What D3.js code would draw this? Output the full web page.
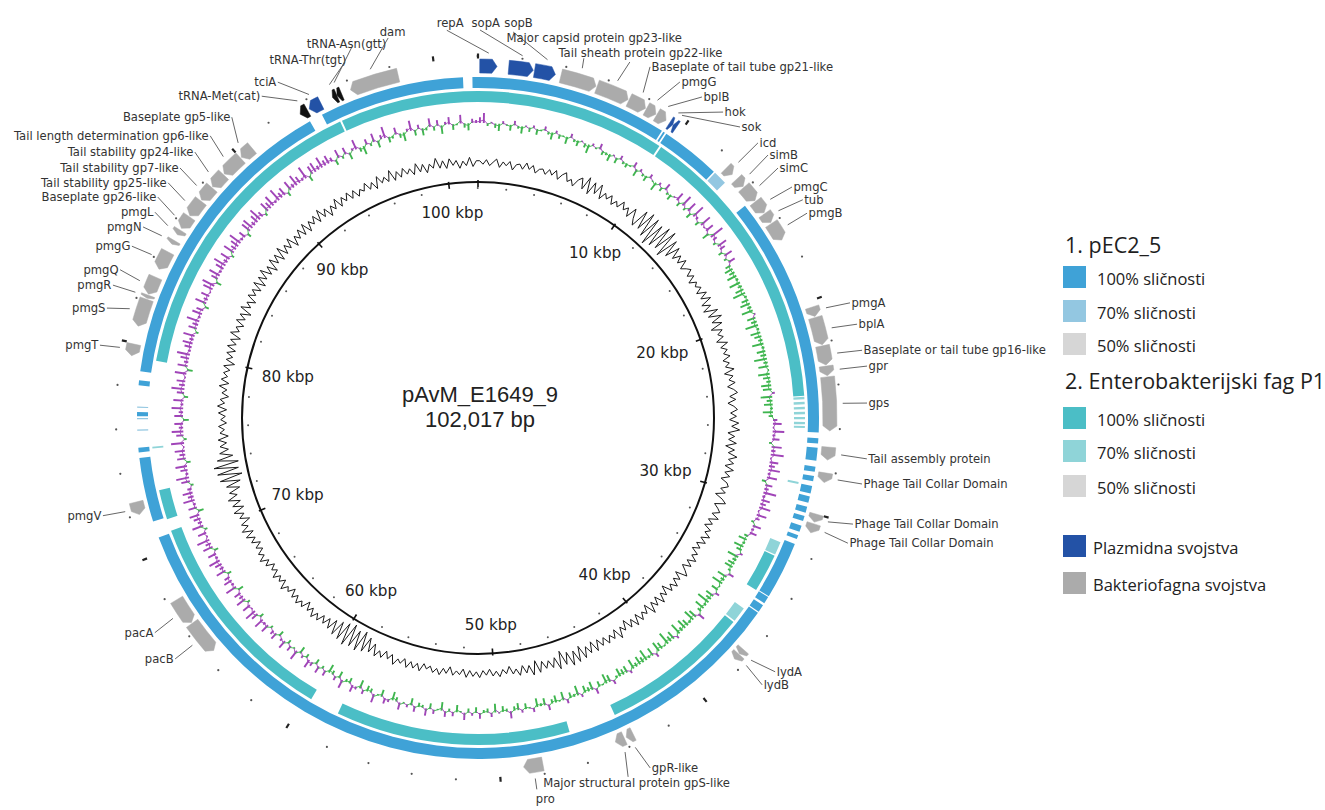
<!DOCTYPE html>
<html><head><meta charset="utf-8">
<script src="https://cdn.jsdelivr.net/npm/d3@7"></script>
<style>body{margin:0;background:#fff}svg{display:block}</style>
</head><body>
<svg id="c" width="1325" height="810"></svg>
<script>
// ---------------- DATA ----------------
const genomeLength = 102017;
const mapTitle = "pAvM_E1649_9";
const mapSubtitle = "102,017 bp";
const tickKbp = [10, 20, 30, 40, 50, 60, 70, 80, 90, 100];

// BLAST hits vs pEC2_5: [start, end, identity %]
const pEC2_5Hits = [
  [94300, 101300, 100], [101750, 9250, 100], [9330, 9420, 100], [9500, 12400, 100],
  [12480, 13150, 70], [14600, 26190, 100],
  [26470, 26720, 100], [26920, 27540, 100], [27830, 28080, 100], [28280, 28530, 100],
  [28760, 29130, 100], [29270, 29580, 100], [29780, 30070, 100], [30240, 30490, 100],
  [30720, 31030, 100], [31200, 31400, 100],
  [31650, 34430, 100], [34480, 34830, 100], [34940, 35310, 100], [35370, 70700, 100],
  [71500, 74600, 100], [74870, 75100, 100], [75900, 75960, 70], [76450, 76510, 70],
  [76600, 76800, 100], [77000, 77060, 70], [78070, 78310, 100], [78750, 93650, 100]
];
// BLAST hits vs Enterobacteria phage P1
const p1Hits = [
  [95050, 9550, 100], [9650, 24400, 100],
  [24450, 24570, 70], [24700, 24820, 70], [24950, 25070, 70], [25200, 25320, 70],
  [25450, 25570, 70], [25700, 25820, 70], [25900, 26000, 70],
  [28700, 28800, 70], [31830, 32500, 70], [32560, 34500, 100], [35600, 36360, 70],
  [36450, 44000, 100], [46400, 58200, 100], [59700, 70800, 100], [71400, 72900, 100],
  [75000, 75080, 70], [79370, 94950, 100]
];

// features: [name, start, end, strand]
const plasmidFeatures = [
  ["repA", 80, 880, 1], ["sopA", 1420, 2560, 1], ["sopB", 2620, 3600, 1],
  ["hok", 9350, 9520, 1], ["sok", 9540, 9720, -1], ["tciA", 93900, 94500, -1]
];
const trnaFeatures = [
  ["tRNA-Met(cat)", 93420, 93800, -1], ["tRNA-Thr(tgt)", 95100, 95320, -1], ["tRNA-Asn(gtt)", 95330, 95550, -1]
];
const phageFeatures = [
  ["Major capsid protein gp23-like", 3860, 5550, 1], ["Tail sheath protein gp22-like", 5600, 7150, 1],
  ["Baseplate of tail tube gp21-like", 7200, 8050, 1], ["pmgG", 8100, 8600, 1], ["bplB", 8650, 9150, 1],
  ["icd", 12700, 13100, 1], ["simB", 13400, 13850, 1], ["simC", 13900, 14700, 1],
  ["pmgC", 14750, 15400, 1], ["tub", 15450, 15950, 1], ["pmgB", 16000, 16900, 1],
  ["pmgA", 20300, 20750, 1], ["bplA", 20800, 22100, 1], ["Baseplate or tail tube gp16-like", 22150, 23050, 1],
  ["gpr", 23100, 23550, 1], ["gps", 23600, 26100, 1], ["Tail assembly protein", 26850, 27450, 1],
  ["Phage Tail Collar Domain", 28050, 28500, 1], ["Phage Tail Collar Domain", 30000, 30380, 1],
  ["Phage Tail Collar Domain", 30460, 30900, 1],
  ["lydA", 37150, 37420, 1], ["lydB", 37450, 37750, 1],
  ["gpR-like", 43600, 43950, 1], ["Major structural protein gpS-like", 44050, 44500, 1], ["pro", 48000, 48900, 1],
  ["pacB", 64800, 66400, -1], ["pacA", 66450, 67700, -1], ["pmgV", 72000, 72600, -1],
  ["pmgT", 79400, 79950, -1], ["pmgS", 80800, 82100, -1], ["pmgR", 82150, 82300, -1],
  ["pmgQ", 82350, 83200, -1], ["pmgG", 83600, 84500, -1], ["pmgN", 84900, 85100, -1],
  ["pmgL", 85400, 85650, -1], ["Baseplate gp26-like", 85750, 86400, -1],
  ["Tail stability gp25-like", 86450, 87300, -1], ["Tail stability gp7-like", 87350, 88100, -1],
  ["Tail stability gp24-like", 88150, 88900, -1], ["Tail length determination gp6-like", 88950, 90000, -1],
  ["Baseplate gp5-like", 90050, 90700, -1], ["dam", 96000, 98300, -1]
];

// GC content deviation per window (480 windows of ~212 bp)
const gcContent = [
  2,-1,3,-2,1,4,-3,2,-1,3,-4,1,2,-2,4,-1,3,-3,1,2,
  -2,3,-1,4,-3,2,5,-2,1,-4,3,6,-3,9,-5,7,-2,8,-4,3,
  -1,4,-3,2,-2,5,-1,3,-4,6,-2,-7,10,-6,12,-9,11,-13,9,-10,
  12,-8,13,-11,9,-6,7,-3,4,-2,5,-3,1,4,-2,3,-4,2,-1,3,
  -3,5,-2,6,-4,3,-5,7,-3,8,-2,6,-5,4,-1,3,-4,5,-2,3,
  -1,4,-3,2,-2,5,-4,3,-1,4,-3,2,5,-2,3,-4,1,4,-2,3,
  -3,5,-1,6,-4,2,-3,4,-5,3,-2,6,-1,4,-3,5,-2,3,-4,2,
  4,-2,3,-5,2,6,-3,1,4,-2,5,-3,2,-4,3,-1,5,-2,4,-3,
  2,-4,3,-1,5,-2,4,-3,2,6,-4,3,-2,5,-1,4,-5,3,-2,6,
  -3,4,-2,7,-4,3,-1,5,-3,6,-2,4,-5,3,-2,7,-3,4,-1,5,
  -2,4,-3,6,-4,5,-2,7,-5,8,-3,9,-4,6,-7,8,-3,5,-2,4,
  -3,6,-5,7,-2,4,-3,5,-1,3,-4,2,-2,4,-1,3,-3,2,-2,4,
  -1,3,-2,4,-3,2,-1,3,-4,2,-2,4,-1,3,-2,1,-3,4,-2,3,
  -2,4,-3,2,-1,5,-3,2,-4,3,-2,4,-6,3,-9,5,-12,7,-10,6,
  -13,8,-11,6,-9,5,-7,3,-5,2,-4,3,-2,4,-3,2,-5,3,-1,4,
  -2,3,-4,2,-1,5,-3,2,-2,4,-3,1,-4,3,-2,5,-1,3,-3,2,
  -4,3,-2,5,-3,6,-1,4,-5,3,-2,6,-4,5,-3,7,-2,4,-6,5,
  -8,9,-11,10,-9,12,-10,8,-6,5,-3,4,-2,5,-4,3,-1,4,-3,2,
  -2,4,-3,5,-1,3,-4,2,-2,5,-3,4,-1,3,-2,4,-5,3,-2,4,
  -3,5,-2,4,-4,6,-1,3,-3,5,-2,4,-5,6,-2,3,-4,5,-1,4,
  -3,6,-4,5,-2,7,-3,4,-5,6,-2,5,-4,7,-3,4,-2,6,-5,3,
  -2,5,-3,6,-4,4,-1,5,-3,7,-2,4,-5,3,-2,6,-3,4,-1,5,
  -2,4,-3,2,-1,5,-2,3,-4,6,-1,3,-2,7,-3,4,-2,5,-1,3,
  -3,6,-2,4,-4,3,-1,7,-2,4,-3,5,-1,3,-4,2,-2,5,-3,2
];
// GC skew per window (positive drawn outward in purple, negative inward in green)
const gcSkew = [
  4,7,-2,1,-3,-5,2,-1,-4,3,-2,-5,1,-3,2,-4,-1,3,-2,-5,
  2,-3,-1,-5,3,-2,-4,1,-3,-6,2,-1,4,-3,-2,-5,1,-4,3,-2,
  -3,-1,4,-5,2,-2,-4,3,-1,-6,2,-3,5,-2,-4,1,6,-3,8,-2,
  7,-4,9,2,-3,8,1,6,-5,10,3,-2,7,4,-3,6,-2,5,-4,-6,
  -4,-7,-2,-8,-3,-6,-9,-2,-5,-7,-3,-8,1,-6,-4,-9,-2,-7,-5,-3,
  -8,-2,-6,-4,-9,-3,-7,-1,-8,-5,-3,-7,-6,2,-8,-4,-6,-2,-7,-3,
  3,6,1,8,2,5,-2,7,3,9,1,6,4,8,2,7,-3,5,3,9,
  2,6,4,8,1,7,3,-2,6,2,5,-3,-6,-2,-7,-4,2,-8,-3,-5,
  -6,-2,4,-7,-3,-8,-1,-5,3,-6,-4,-9,-2,-7,-3,5,-6,-8,-2,-5,
  -7,-3,-8,2,-6,-4,-9,-1,-5,-7,3,-6,-2,-8,-4,-6,-3,-7,2,-5,
  -4,-6,-2,3,-5,-7,-1,-4,4,-6,-3,-5,2,-7,-2,-4,3,-6,-1,-5,
  -3,4,-5,-2,-6,3,-1,-4,2,-5,-3,5,-2,-4,1,-6,3,-3,-2,4,
  -4,2,-3,5,-1,-5,3,-2,4,-6,-1,3,-4,5,-2,-3,4,-5,2,-1,
  5,-3,-6,2,4,-5,-1,6,-3,-4,3,-6,2,5,-4,-2,6,-5,3,-3,
  -6,4,-2,5,-4,3,6,-3,2,-5,7,-1,4,-3,6,2,-4,5,3,-2,
  6,2,7,-3,5,8,1,6,-2,7,3,5,-4,8,2,6,4,-3,7,3,
  5,8,2,6,-3,7,4,9,1,6,-2,8,3,5,7,-4,6,2,8,4,
  7,3,-2,6,9,2,5,8,-3,6,4,7,1,9,-2,5,8,3,6,-4,
  6,3,8,2,7,-3,5,9,4,6,1,8,-4,7,3,6,9,2,5,7,
  3,8,-2,6,4,9,2,7,5,-3,8,3,6,1,7,9,-4,5,8,2,
  6,9,3,7,-2,8,4,6,9,2,5,-3,7,8,3,6,9,4,-2,7,
  5,8,2,9,4,6,-3,7,3,8,5,2,9,-4,6,7,3,8,4,6,
  3,-4,6,-2,5,-5,2,7,-3,-6,4,-2,6,-5,3,8,-4,-2,5,-3,
  -6,2,7,-4,3,-5,-2,6,-3,4,-6,2,5,-4,-1,6,-3,-5,3,2
];

const legendHeaders = ["1. pEC2_5", "2. Enterobakterijski fag P1"];
const legendIdentity = ["100% sličnosti", "70% sličnosti", "50% sličnosti"];
const legendFeatureTypes = ["Plazmidna svojstva", "Bakteriofagna svojstva"];

// ---------------- LAYOUT / STYLE ----------------
const W = 1325, H = 810, cx = 478, cy = 418;
const pecColors = {100: "#3fa2d7", 70: "#93c7e1", 50: "#d6d6d6"};
const p1Colors = {100: "#4bbec6", 70: "#8fd4d8", 50: "#d6d6d6"};
const typeColor = {plasmid: "#2352a6", trna: "#111111", phage: "#ababab"};
const R = {pecIn: 330, pecOut: 341, p1In: 316, p1Out: 327, featIn: 345, featOut: 359,
           skew: 295, gc: 255, backbone: 236, ruler: 362};

// label layout: key -> [angleDeg, radius, anchor, lineAngleDeg?, lineRadius?]
const labelLayout = {
  "repA": [-6.2, 397, "start", -4.6, 389], "sopA": [-1.16, 395, "start", 0.3, 388],
  "sopB": [3.6, 396, "start", 5.2, 387.6], "hok": [38.7, 392, "start"], "sok": [42.0, 391.6, "start"],
  "tciA": [-30.8, 391, "end"], "tRNA-Met(cat)": [-33.9, 387.7, "end"],
  "tRNA-Thr(tgt)": [-30.4, 415, "start", -20.5, 380], "tRNA-Asn(gtt)": [-24.8, 412, "start", -18.75, 392],
  "Major capsid protein gp23-like": [4.06, 381, "start", 16.4, 375],
  "Tail sheath protein gp22-like": [12.2, 373.5, "start", 23.1, 387],
  "Baseplate of tail tube gp21-like": [26.1, 391, "start"], "pmgG": [31.0, 392, "start"],
  "bplB": [34.9, 391.4, "start"], "icd": [45.5, 392.5, "start"], "simB": [47.8, 391.5, "start"],
  "simC": [50.2, 390.5, "start"], "pmgC": [53.66, 389.8, "start"], "tub": [56.1, 391.3, "start"],
  "pmgB": [58.1, 387.6, "start"], "pmgA": [72.8, 389.4, "start"], "bplA": [76.1, 390.5, "start"],
  "Baseplate or tail tube gp16-like": [80.0, 390, "start"], "gpr": [82.4, 392.5, "start"],
  "gps": [87.8, 389.3, "start"], "Tail assembly protein": [96.0, 391, "start"],
  "Phage Tail Collar Domain": [99.75, 389.6, "start"], "Phage Tail Collar Domain#2": [105.8, 389.7, "start"],
  "Phage Tail Collar Domain#3": [108.7, 390.5, "start"], "lydA": [130.5, 390.8, "start"],
  "lydB": [133.2, 389.8, "start"], "gpR-like": [153.8, 390, "start"],
  "Major structural protein gpS-like": [170.1, 370.6, "start", 157.3, 389],
  "pro": [171.6, 385.5, "start", 171.0, 376], "pacB": [-128.5, 387, "end"], "pacA": [-123.6, 388, "end"],
  "pmgV": [-104.6, 387.6, "end"], "pmgT": [-79.1, 385, "end"], "pmgS": [-73.5, 387, "end"],
  "pmgR": [-70.0, 388.5, "end"], "pmgQ": [-67.5, 387.4, "end"], "pmgG#2": [-63.6, 386.4, "end"],
  "pmgN": [-60.3, 385.6, "end"], "pmgL": [-57.5, 383, "end"], "Baseplate gp26-like": [-55.4, 389, "end"],
  "Tail stability gp25-like": [-52.8, 389, "end"], "Tail stability gp7-like": [-50.0, 389, "end"],
  "Tail stability gp24-like": [-46.8, 388.4, "end"], "Tail length determination gp6-like": [-43.5, 389, "end"],
  "Baseplate gp5-like": [-39.3, 388.7, "end"], "dam": [-14.5, 398.7, "start", -13.3, 390.5]
};

// ---------------- DRAW ----------------
const svg = d3.select("#c");
svg.append("rect").attr("width", W).attr("height", H).attr("fill", "#fff");
const g = svg.append("g").attr("transform", `translate(${cx},${cy})`);
const ang = d3.scaleLinear().domain([0, genomeLength]).range([0, 2 * Math.PI]);
const P = (a, r) => [r * Math.sin(a), -r * Math.cos(a)];
const deg = d => d * Math.PI / 180;
const endOf = d => d[1] < d[0] ? d[1] + genomeLength : d[1];

// similarity rings
const arc = d3.arc();
g.append("g").selectAll("path").data(pEC2_5Hits).join("path")
  .attr("d", d => arc({innerRadius: R.pecIn, outerRadius: R.pecOut, startAngle: ang(d[0]), endAngle: ang(endOf(d))}))
  .attr("fill", d => pecColors[d[2]]);
g.append("g").selectAll("path").data(p1Hits).join("path")
  .attr("d", d => arc({innerRadius: R.p1In, outerRadius: R.p1Out, startAngle: ang(d[0]), endAngle: ang(endOf(d))}))
  .attr("fill", d => p1Colors[d[2]]);

// features
function featurePath(s, e, strand, r1, r2) {
  const a0 = ang(s), a1 = ang(e), rm = (r1 + r2) / 2;
  const head = Math.min(5 / rm, (a1 - a0) * 0.55);
  const p = d3.path(), H2 = Math.PI / 2;
  if (strand >= 0) {
    const ab = a1 - head;
    p.moveTo(...P(a0, r2)); p.arc(0, 0, r2, a0 - H2, ab - H2, false);
    p.lineTo(...P(a1, rm)); p.lineTo(...P(ab, r1));
    p.arc(0, 0, r1, ab - H2, a0 - H2, true); p.closePath();
  } else {
    const ab = a0 + head;
    p.moveTo(...P(a0, rm)); p.lineTo(...P(ab, r2));
    p.arc(0, 0, r2, ab - H2, a1 - H2, false); p.lineTo(...P(a1, r1));
    p.arc(0, 0, r1, a1 - H2, ab - H2, true); p.closePath();
  }
  return p.toString();
}
const allFeatures = [
  ...plasmidFeatures.map(d => ({name: d[0], s: d[1], e: d[2], strand: d[3], type: "plasmid"})),
  ...trnaFeatures.map(d => ({name: d[0], s: d[1], e: d[2], strand: d[3], type: "trna"})),
  ...phageFeatures.map(d => ({name: d[0], s: d[1], e: d[2], strand: d[3], type: "phage"}))
];
const seen = {};
allFeatures.forEach(f => { seen[f.name] = (seen[f.name] || 0) + 1; f.key = seen[f.name] > 1 ? f.name + "#" + seen[f.name] : f.name; });

g.append("g").selectAll("path").data(allFeatures).join("path")
  .attr("d", f => featurePath(f.s, f.e, f.strand, R.featIn, R.featOut))
  .attr("fill", f => typeColor[f.type]).attr("stroke", f => typeColor[f.type]).attr("stroke-width", 0.5)
  .attr("stroke-linejoin", "round");

// GC skew: radial bars + coloured trace
const nW = gcSkew.length, win = genomeLength / nW;
const kS = 1.45;
const skewCol = v => v >= 0 ? "#a044b8" : "#3eb54e";
const skewPts = gcSkew.map((v, i) => ({a: ang((i + 0.5) * win), v}));
g.append("g").selectAll("line").data(skewPts).join("line")
  .attr("x1", d => P(d.a, R.skew)[0]).attr("y1", d => P(d.a, R.skew)[1])
  .attr("x2", d => P(d.a, R.skew + d.v * kS)[0]).attr("y2", d => P(d.a, R.skew + d.v * kS)[1])
  .attr("stroke", d => skewCol(d.v)).attr("stroke-width", 1.9);
g.append("g").selectAll("line").data(skewPts.map((d, i) => [d, skewPts[(i + 1) % nW]])).join("line")
  .attr("x1", d => P(d[0].a, R.skew + d[0].v * kS * 0.3)[0]).attr("y1", d => P(d[0].a, R.skew + d[0].v * kS * 0.3)[1])
  .attr("x2", d => P(d[1].a, R.skew + d[1].v * kS * 0.3)[0]).attr("y2", d => P(d[1].a, R.skew + d[1].v * kS * 0.3)[1])
  .attr("stroke", d => skewCol(d[0].v)).attr("stroke-width", 0.9);

// GC content
const kG = 1.15;
g.append("path").datum(gcContent.map((v, i) => ({a: ang((i + 0.5) * win), v})))
  .attr("d", d3.lineRadial().angle(d => d.a).radius(d => R.gc + d.v * kG).curve(d3.curveLinearClosed))
  .attr("fill", "none").attr("stroke", "#1a1a1a").attr("stroke-width", 1);

// backbone
g.append("circle").attr("r", R.backbone).attr("fill", "none").attr("stroke", "#111").attr("stroke-width", 2);
const minor = d3.range(0, genomeLength, 2000);
g.append("g").selectAll("circle").data(minor.filter(v => v % 10000 !== 0)).join("circle")
  .attr("cx", v => P(ang(v), 230)[0]).attr("cy", v => P(ang(v), 230)[1]).attr("r", 1).attr("fill", "#555");
g.append("g").selectAll("line").data(minor.filter(v => v % 10000 === 0)).join("line")
  .attr("x1", v => P(ang(v), 231)[0]).attr("y1", v => P(ang(v), 231)[1])
  .attr("x2", v => P(ang(v), 238)[0]).attr("y2", v => P(ang(v), 238)[1])
  .attr("stroke", "#111").attr("stroke-width", 1.6);
// outer ruler dots
g.append("g").selectAll("circle").data(minor.filter(v => v % 10000 !== 0)).join("circle")
  .attr("cx", v => P(ang(v), R.ruler)[0]).attr("cy", v => P(ang(v), R.ruler)[1]).attr("r", 1.1).attr("fill", "#555");
g.append("g").selectAll("line").data(minor.filter(v => v % 10000 === 0)).join("line")
  .attr("x1", v => P(ang(v), R.ruler - 2.5)[0]).attr("y1", v => P(ang(v), R.ruler - 2.5)[1])
  .attr("x2", v => P(ang(v), R.ruler + 2.5)[0]).attr("y2", v => P(ang(v), R.ruler + 2.5)[1])
  .attr("stroke", "#222").attr("stroke-width", 2.2);

// tick labels
g.append("g").selectAll("text").data(tickKbp).join("text")
  .attr("x", k => { const a = ang(k * 1000), s = Math.sin(a); return P(a, 207 - 13 * s * s)[0]; })
  .attr("y", k => { const a = ang(k * 1000), s = Math.sin(a); return P(a, 207 - 13 * s * s)[1]; })
  .attr("text-anchor", "middle").attr("dominant-baseline", "central")
  .attr("font-family", "DejaVu Sans").attr("font-size", 15.2).attr("fill", "#222")
  .text(k => k + " kbp");

// center title
g.append("text").attr("x", 2).attr("y", -16).attr("text-anchor", "middle")
  .attr("font-family", "Liberation Sans, Arial").attr("font-size", 22).attr("fill", "#222").text(mapTitle);
g.append("text").attr("x", 2).attr("y", 9).attr("text-anchor", "middle")
  .attr("font-family", "Liberation Sans, Arial").attr("font-size", 22).attr("fill", "#222").text(mapSubtitle);

// labels + leader lines
const lab = g.append("g");
allFeatures.forEach(f => {
  const L = labelLayout[f.key]; if (!L) return;
  const [ld, lr, anchor, lineD, lineR] = L;
  const tp = P(deg(ld), lr);
  const le = lineD !== undefined ? P(deg(lineD), lineR) : tp;
  const fs = P((ang(f.s) + ang(f.e)) / 2, 365);
  lab.append("line").attr("x1", fs[0]).attr("y1", fs[1]).attr("x2", le[0]).attr("y2", le[1])
    .attr("stroke", "#555").attr("stroke-width", 0.9);
  lab.append("text").attr("x", tp[0] + (anchor === "start" ? 1.5 : anchor === "end" ? -1.5 : 0)).attr("y", tp[1])
    .attr("text-anchor", anchor).attr("dominant-baseline", "central")
    .attr("font-family", "DejaVu Sans").attr("font-size", 11.6).attr("fill", "#333").text(f.name);
});

// legend
const lg = svg.append("g").attr("font-family", "Open Sans");
const head = [[legendHeaders[0], 253], [legendHeaders[1], 389]];
lg.selectAll("text.h").data(head).join("text").attr("class", "h")
  .attr("x", 1065).attr("y", d => d[1]).attr("font-size", 21.5).attr("fill", "#1e1e1e").text(d => d[0]);
const rows = [
  [pecColors[100], legendIdentity[0], 266, 1097], [pecColors[70], legendIdentity[1], 300, 1097], [pecColors[50], legendIdentity[2], 333, 1097],
  [p1Colors[100], legendIdentity[0], 407, 1097], [p1Colors[70], legendIdentity[1], 440, 1097], [p1Colors[50], legendIdentity[2], 475, 1097],
  [typeColor.plasmid, legendFeatureTypes[0], 535, 1093], [typeColor.phage, legendFeatureTypes[1], 572, 1093]
];
lg.selectAll("rect").data(rows).join("rect").attr("x", 1063).attr("y", d => d[2]).attr("width", 23).attr("height", 22).attr("fill", d => d[0]);
lg.selectAll("text.r").data(rows).join("text").attr("class", "r")
  .attr("x", d => d[3]).attr("y", d => d[2] + 12).attr("dominant-baseline", "central")
  .attr("font-size", 16.5).attr("fill", "#222").text(d => d[1]);
</script>
</body></html>
